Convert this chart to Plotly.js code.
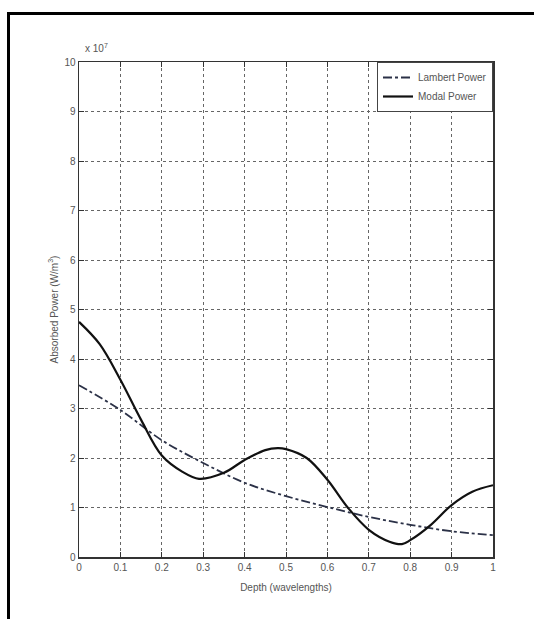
<!DOCTYPE html>
<html>
<head>
<meta charset="utf-8">
<script src="https://cdn.plot.ly/plotly-3.0.1.min.js"></script>
<style>
  html, body { margin: 0; padding: 0; background: #fff; }
  #wrap { position: relative; width: 534px; height: 619px; overflow: hidden; }
  #chart { position: absolute; left: 0; top: 0; width: 534px; height: 619px; }
  #frame { position: absolute; left: 7px; top: 12px; width: 600px; height: 700px;
           border-left: 3px solid #000; border-top: 3px solid #000; pointer-events: none; }
</style>
</head>
<body>
<div id="wrap">
  <div id="chart"></div>
  <div id="frame"></div>
</div>
<script>
// Depth in wavelengths
const depthModal = [0, 0.05, 0.10, 0.15, 0.20, 0.25, 0.29, 0.35, 0.40, 0.45, 0.48, 0.50, 0.55, 0.60, 0.65, 0.70, 0.75, 0.78, 0.80, 0.85, 0.90, 0.95, 1.00];
// Modal absorbed power (x10^7 W/m^3)
const modalPower = [4.75, 4.30, 3.58, 2.77, 2.05, 1.72, 1.58, 1.70, 1.96, 2.16, 2.20, 2.18, 2.00, 1.56, 0.99, 0.55, 0.31, 0.26, 0.34, 0.65, 1.05, 1.32, 1.45];

const depthLambert = [0, 0.10, 0.20, 0.30, 0.40, 0.50, 0.60, 0.70, 0.80, 0.90, 1.00];
// Lambert absorbed power (x10^7 W/m^3)
const lambertPower = [3.47, 2.97, 2.36, 1.90, 1.50, 1.23, 1.01, 0.81, 0.65, 0.52, 0.44];

const xTicks = [0, 0.1, 0.2, 0.3, 0.4, 0.5, 0.6, 0.7, 0.8, 0.9, 1];
const yTicks = [0, 1, 2, 3, 4, 5, 6, 7, 8, 9, 10];

const labelFont = { family: 'Liberation Sans, Arial, sans-serif', size: 10, color: '#555' };

const traces = [
  {
    x: depthLambert, y: lambertPower, name: 'Lambert Power',
    type: 'scatter', mode: 'lines',
    line: { color: '#2b3147', width: 1.8, dash: 'dashdot', shape: 'spline' }
  },
  {
    x: depthModal, y: modalPower, name: 'Modal Power',
    type: 'scatter', mode: 'lines',
    line: { color: '#111', width: 2.2, shape: 'spline', smoothing: 1 }
  }
];

const axisCommon = {
  showline: true, linecolor: '#333', linewidth: 1.5, mirror: 'ticks',
  ticks: 'inside', ticklen: 5, tickcolor: '#333',
  showgrid: true, gridcolor: '#666', gridwidth: 1, griddash: 'dot',
  zeroline: false,
  tickfont: labelFont
};

const layout = {
  width: 534, height: 619,
  margin: { l: 79, r: 41, t: 62, b: 62 },
  paper_bgcolor: '#fff', plot_bgcolor: '#fff',
  showlegend: true,
  legend: {
    x: 1, xanchor: 'right', y: 1, yanchor: 'top',
    bgcolor: '#fff', bordercolor: '#444', borderwidth: 1,
    font: labelFont, tracegroupgap: 0, itemwidth: 30
  },
  xaxis: Object.assign({}, axisCommon, {
    range: [0, 1], tickvals: xTicks, ticktext: xTicks.map(String),
    title: { text: 'Depth (wavelengths)', standoff: 12, font: labelFont }
  }),
  yaxis: Object.assign({}, axisCommon, {
    range: [0, 10], tickvals: yTicks, ticktext: yTicks.map(String),
    title: { text: 'Absorbed Power (W/m<sup>3</sup>)', standoff: 4, font: labelFont }
  }),
  annotations: [
    { xref: 'paper', yref: 'paper', x: 0, y: 1, xanchor: 'left', yanchor: 'bottom',
      yshift: 6, xshift: 4, showarrow: false,
      text: 'x 10<sup>7</sup>', font: labelFont }
  ]
};

Plotly.newPlot('chart', traces, layout, { staticPlot: true, displayModeBar: false });
</script>
</body>
</html>
